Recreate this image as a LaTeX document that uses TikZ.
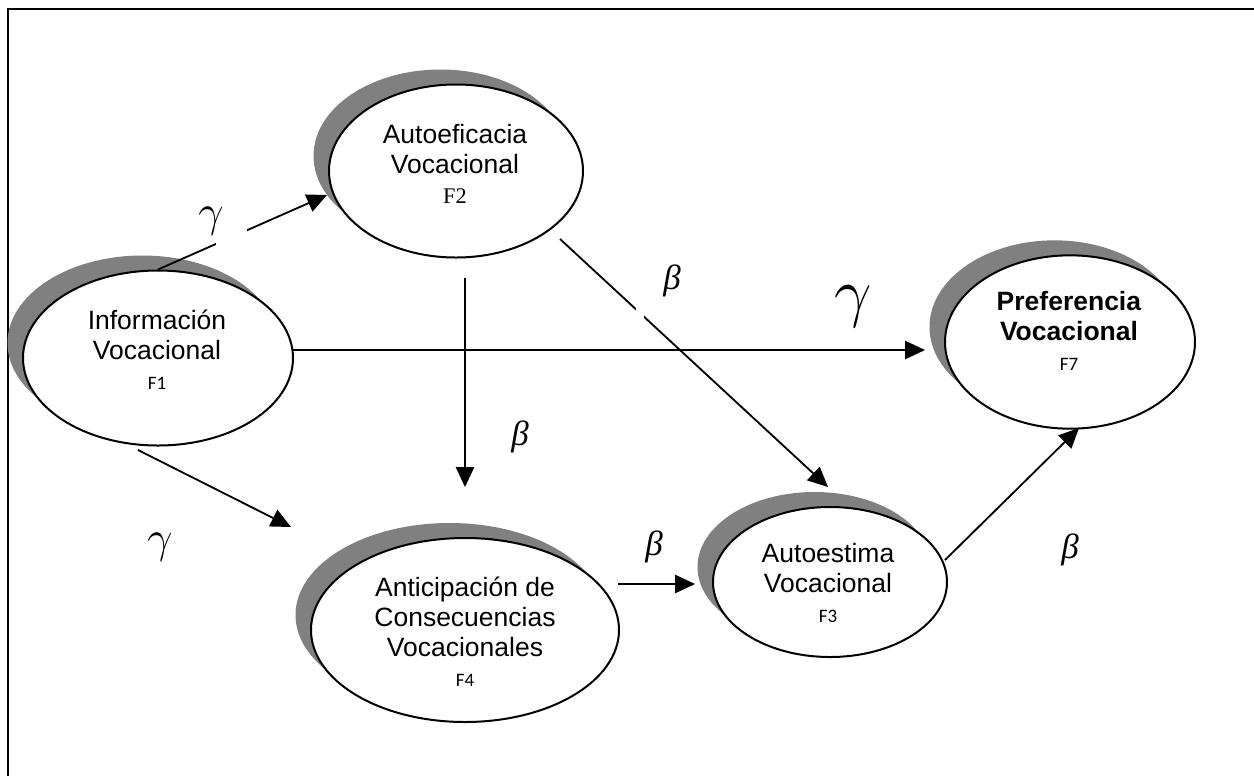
\RequirePackage{fix-cm}
\documentclass[tikz,border=0pt]{standalone}
\usepackage{fontspec}
\setmainfont{Liberation Sans}
\newfontfamily\serifF{Liberation Serif}
\newfontfamily\smallF{Carlito}
\usetikzlibrary{shapes.geometric,shadows,arrows.meta}

\definecolor{shadowgray}{HTML}{808080}

\tikzset{
  factor/.style={ellipse, draw, line width=1.2pt, fill=white, inner sep=0pt,
    general shadow={fill=shadowgray, shadow xshift=-9.3pt, shadow yshift=9pt}},
  ftext/.style={align=center, inner sep=0pt,
    font=\fontsize{15.9}{18}\selectfont},
  link/.style={line width=1.1pt, -{Triangle[length=12pt,width=11pt]}},
  coef/.style={inner sep=0pt, font=\serifF\itshape\fontsize{21}{21}\selectfont},
  coefg/.style={inner sep=0pt, font=\fontsize{27}{27}\selectfont},
  coefG/.style={inner sep=0pt, font=\fontsize{40}{40}\selectfont},
  gapbox/.style={fill=white, inner sep=0pt},
}

\begin{document}
\begin{tikzpicture}[x=0.6pt,y=-0.6pt]
\useasboundingbox (0,0) rectangle (1254,776);

% outer frame (only top and left edges fall inside the page)
\draw[line width=1.4pt] (1254,9) -- (8,9) -- (8,776);

% latent factors
\node[factor, minimum width=162pt, minimum height=105pt] (f1) at (158,358) {};
\node[factor, minimum width=152.4pt, minimum height=103.8pt] (f2) at (456,171) {};
\node[factor, minimum width=150pt, minimum height=104pt] (f7) at (1070,342) {};
\node[factor, minimum width=140.4pt, minimum height=90pt] (f3) at (830,582) {};
\node[factor, minimum width=184.8pt, minimum height=110.4pt] (f4) at (465,630) {};

% factor captions
\node[ftext] (t1) at (157,350) {Información\\Vocacional\\{\smallF\fontsize{11.4}{14}\selectfont F1}};
\node[ftext] (t2) at (455,164) {Autoeficacia\\Vocacional\\{\serifF\fontsize{13.4}{16}\selectfont F2}};
\node[ftext] (t7) at (1069,331) {\textbf{Preferencia}\\\textbf{Vocacional}\\{\smallF\fontsize{11.4}{14}\selectfont F7}};
\node[ftext] (t3) at (828,583) {Autoestima\\Vocacional\\{\smallF\fontsize{11.4}{14}\selectfont F3}};
\node[ftext] (t4) at (465,632) {Anticipación de\\Consecuencias\\Vocacionales\\{\smallF\fontsize{11.4}{14}\selectfont F4}};

% structural paths
\draw[link] (f1.north) -- ([shift={(-129,24)}]f2.center);
\draw[link] ([shift={(135,-8)}]f1.center) -- ([shift={(-145,8)}]f7.center);
\draw[link] ([shift={(-20,92)}]f1.center) -- ([shift={(-174,-103)}]f4.center);
\draw[link] ([shift={(9,107)}]f2.center) -- ([shift={(0,-143)}]f4.center);
\draw[link] ([shift={(104,68)}]f2.center) -- ([shift={(-2,-95)}]f3.center);
\draw[link] ([shift={(153,-46)}]f4.center) -- ([shift={(-135,2)}]f3.center);
\draw[link] ([shift={(115,-22)}]f3.center) -- ([shift={(9,86)}]f7.center);

% white backing of the coefficient labels
\node[gapbox, minimum width=18.6pt, minimum height=13.2pt] (b1) at (231.5,240) {};
\node[gapbox, minimum width=4.5pt, minimum height=5.5pt] (b2) at (640,313) {};

% path coefficients
\node[coefg] (g1) at (211,221) {$\gamma$};
\node[coefG] (g2) at (853,307) {$\gamma$};
\node[coefg] (g3) at (160,547) {$\gamma$};
\node[coef] (p1) at (672,281) {β};
\node[coef] (p2) at (520,437) {β};
\node[coef] (p3) at (654,547) {β};
\node[coef] (p4) at (1070,550) {β};
\end{tikzpicture}
\end{document}
